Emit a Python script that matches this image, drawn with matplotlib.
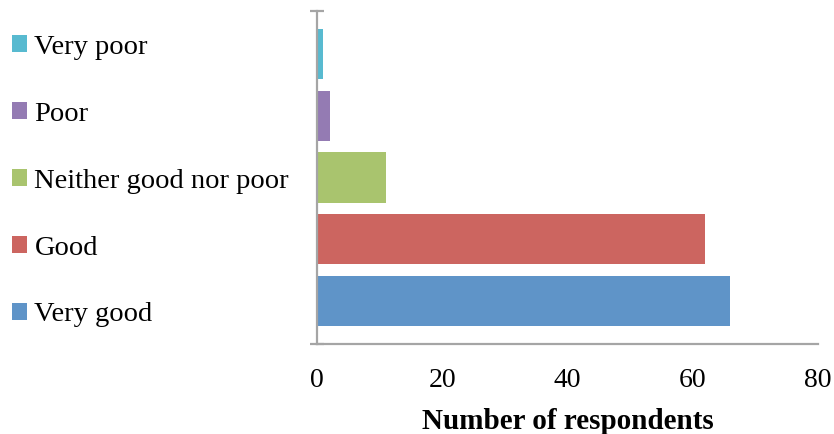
import matplotlib
matplotlib.use("Agg")
import matplotlib.pyplot as plt

# survey ratings, bottom bar first
categories = ["Very good", "Good", "Neither good nor poor", "Poor", "Very poor"]
respondents = [66, 62, 11, 2, 1]
colors = ["#5F94C8", "#CC6560", "#A9C46E", "#947BB3", "#58BAD0"]
x_ticks = [0, 20, 40, 60, 80]

plt.rcParams["font.family"] = ["Liberation Serif", "DejaVu Serif"]

W, H = 834, 434
fig = plt.figure(figsize=(W / 100, H / 100), dpi=100)
ax = fig.add_axes([317 / W, (H - 344) / H, (818 - 317) / W, (344 - 11) / H])

pad = 0.696
bars = []
for i, (cat, val, col) in enumerate(zip(categories, respondents, colors)):
    b = ax.barh(i, val, height=0.81, color=col, label=cat)
    bars.append(b)

ax.set_xlim(0, 80)
ax.set_ylim(-pad, len(categories) - 1 + pad)
ax.set_xticks(x_ticks)
ax.set_yticks([-pad, len(categories) - 1 + pad])
ax.set_yticklabels([])

axis_gray = "#A5A5A5"
for side in ["top", "right"]:
    ax.spines[side].set_visible(False)
for side in ["left", "bottom"]:
    ax.spines[side].set_color(axis_gray)
    ax.spines[side].set_linewidth(1.6)

ax.tick_params(axis="x", length=0, pad=17, labelsize=20)
ax.tick_params(axis="y", direction="inout", length=10.5, width=1.6, color=axis_gray)
ax.set_xlabel("Number of respondents", fontsize=21, fontweight="bold", labelpad=11)

# key drawn on the left, top to bottom
handles = bars[::-1]
labels = categories[::-1]
fig.legend(handles, labels, loc="upper left", bbox_to_anchor=(12 / W, 1 - 35 / H),
           frameon=False, fontsize=20.5, borderpad=0, borderaxespad=0,
           handlelength=0.54, handleheight=0.54, handletextpad=0.25,
           labelspacing=1.47)

fig.savefig("out.png", dpi=100)
